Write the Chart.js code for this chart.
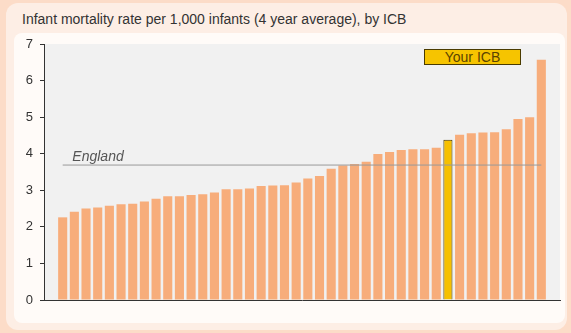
<!DOCTYPE html>
<html>
<head>
<meta charset="utf-8">
<script src="https://cdn.jsdelivr.net/npm/chart.js@4.4.1/dist/chart.umd.min.js"></script>
<style>
  html, body { margin: 0; padding: 0; }
  body {
    width: 571px; height: 333px; overflow: hidden;
    background: #fcdcc8;
    font-family: "Liberation Sans", Arial, sans-serif;
    position: relative;
  }
  #card {
    position: absolute; left: 6px; top: 3px; width: 561px; height: 327px;
    background: #fdeee5; border-radius: 12px;
  }
  #panel {
    position: absolute; left: 14px; top: 33px; width: 551px; height: 290px;
    background: #fffbf8; border-radius: 8px;
  }
  #title {
    position: absolute; left: 22px; top: 11px;
    font-size: 14px; color: #333;
  }
  #wrap { position: absolute; left: 0; top: 0; width: 571px; height: 333px; }
  #key {
    position: absolute; left: 424px; top: 49px; width: 95px; height: 14px;
    background: #f6c400; border: 1px solid #4a3b00;
    font-size: 14px; line-height: 14px; text-align: center; color: #5a4300;
  }
</style>
</head>
<body>
<div id="card"></div>
<div id="panel"></div>
<div id="title">Infant mortality rate per 1,000 infants (4 year average), by ICB</div>
<div id="wrap"><canvas id="myChart" width="571" height="333"></canvas></div>
<div id="key">Your ICB</div>
<script>
// Infant mortality rate per 1,000 (4 year average), one value per ICB, sorted
const icbRates = [
  2.26, 2.41, 2.50, 2.53, 2.58, 2.62, 2.63, 2.69, 2.77, 2.84,
  2.84, 2.87, 2.89, 2.94, 3.03, 3.03, 3.05, 3.12, 3.13, 3.14,
  3.21, 3.32, 3.39, 3.59, 3.68, 3.72, 3.78, 3.99, 4.05, 4.10,
  4.12, 4.12, 4.16, 4.38, 4.52, 4.56, 4.58, 4.59, 4.67, 4.95,
  5.00, 6.57
];
const yourIcbIndex = 33;
const englandRate = 3.69;
const yTicks = [0, 1, 2, 3, 4, 5, 6, 7];

const barColour = '#f7ad7b';
const icbColour = '#f6c000';
const fontFamily = '"Liberation Sans", Arial, sans-serif';

// grey plot background + England label
const plotBg = {
  id: 'plotBg',
  beforeDraw(chart){
    const {ctx, chartArea} = chart;
    ctx.save();
    ctx.fillStyle = '#f1f1f1';
    ctx.fillRect(chartArea.left, chartArea.top, chartArea.right - chartArea.left, chartArea.bottom - chartArea.top);
    ctx.restore();
  },
  afterDraw(chart){
    const {ctx, scales} = chart;
    ctx.save();
    ctx.font = 'italic 14px ' + fontFamily;
    ctx.fillStyle = '#555';
    ctx.textBaseline = 'bottom';
    ctx.fillText('England', scales.x.getPixelForValue(1) - 2, scales.y.getPixelForValue(englandRate) - 1);
    ctx.restore();
  }
};

document.addEventListener('DOMContentLoaded', function () {
    const ctx = document.getElementById('myChart').getContext('2d');
    new Chart(ctx, {
        data: {
            datasets: [{
                type: 'line',
                label: 'England',
                data: [{x: 0, y: englandRate}, {x: icbRates.length - 1, y: englandRate}],
                borderColor: '#9a9a9a',
                borderWidth: 1,
                pointRadius: 0,
                order: 0
            }, {
                type: 'bar',
                label: 'ICB',
                data: icbRates.map((v, i) => ({x: i, y: v})),
                backgroundColor: icbRates.map((v, i) => i === yourIcbIndex ? icbColour : barColour),
                borderColor: icbRates.map((v, i) => i === yourIcbIndex ? '#3f3300' : barColour),
                borderWidth: icbRates.map((v, i) => i === yourIcbIndex ? 1 : 0),
                barPercentage: 0.78,
                categoryPercentage: 1,
                order: 1
            }]
        },
        options: {
            responsive: false,
            animation: false,
            layout: {padding: {left: 0, top: 44, right: 11, bottom: 33}},
            plugins: {legend: {display: false}, tooltip: {enabled: false}},
            scales: {
                x: {
                    type: 'linear',
                    offset: false,
                    min: -1.6,
                    max: 42.6,
                    ticks: {display: false},
                    grid: {display: false, offset: false},
                    border: {display: true, color: '#333', width: 1},
                    afterFit(scale){ scale.height = 0; }
                },
                y: {
                    min: 0,
                    max: 7,
                    afterBuildTicks(scale){ scale.ticks = yTicks.map(v => ({value: v})); },
                    ticks: {color: '#333', padding: 7, font: {size: 13, family: fontFamily}},
                    grid: {drawOnChartArea: false, tickLength: 4, color: '#333'},
                    border: {display: true, color: '#333', width: 1},
                    afterFit(scale){ scale.width = 44; }
                }
            }
        },
        plugins: [plotBg]
    });
});
</script>
</body>
</html>
